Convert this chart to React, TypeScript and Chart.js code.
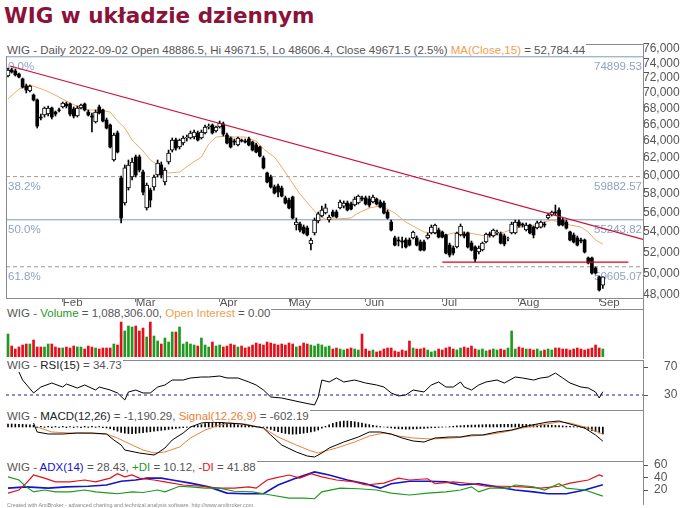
import React, { useEffect, useRef } from 'react';
import { Chart, registerables } from 'chart.js';

Chart.register(...registerables);

const FONT = '"Liberation Sans", Arial, Helvetica, sans-serif';
Chart.defaults.font.family = FONT;

// ================= DATA =================
const monthLabels = ['Feb', 'Mar', 'Apr', 'May', 'Jun', 'Jul', 'Aug', 'Sep'];
const monthStartBars = [15, 35, 58, 77, 98, 119, 140, 162];
const priceTicks = [48000, 50000, 52000, 54000, 56000, 58000, 60000, 62000, 64000, 66000, 68000, 70000, 72000, 74000, 76000];

const openPrices = [
  72260, 73080, 72940, 72530, 71860, 70930, 70270, 69740, 69100, 66930,
  67190, 67310, 68070, 67560, 67820, 68200, 68580, 68580, 67940, 67060,
  68070, 68580, 67560, 67060, 66310, 68200, 67820, 66560, 65940, 61770,
  64970, 59730, 57000, 58620, 59840, 62120, 62120, 60400, 56480, 58400,
  58730, 60060, 61200, 59280, 61540, 62930, 64120, 63290, 63760, 64360,
  64360, 64480, 64970, 64360, 64970, 65700, 65940, 65210, 65700, 66070,
  64720, 64360, 64000, 63530, 64120, 64000, 64240, 63880, 63530, 63290,
  62000, 60290, 59840, 58730, 58840, 58620, 57540, 57320, 57650, 54710,
  54810, 54500, 54400, 52800, 53900, 55120, 55640, 55950, 55220, 56050,
  56050, 56480, 56680, 57000, 56900, 56790, 57000, 57540, 57540, 57430,
  57110, 57430, 57110, 57000, 56050, 55010, 53400, 53200, 53100, 53200,
  53200, 53400, 53400, 53000, 53000, 53400, 53900, 53900, 54200, 54000,
  53700, 52700, 52410, 52510, 53700, 53800, 53900, 52900, 52510, 52020,
  52210, 53000, 53800, 53600, 53900, 53800, 53600, 53300, 53900, 53900,
  55010, 54810, 54200, 54710, 54500, 54400, 54500, 54810, 55430, 55740,
  56050, 56260, 55220, 55010, 54000, 53700, 53400, 53200, 53200, 51440,
  51440, 50490, 49650, 48886.5,
];
const highPrices = [
  73350, 73350, 73210, 72670, 71990, 71190, 71060, 69870, 69230, 67310,
  68200, 68330, 68200, 67690, 68070, 68840, 68840, 68710, 68200, 68330,
  68580, 68710, 67820, 67440, 67820, 68450, 67940, 66810, 66070, 64970,
  65210, 59950, 61200, 61770, 62000, 62350, 62350, 60630, 59170, 58620,
  60060, 61770, 61540, 60860, 62930, 64360, 64360, 64240, 64600, 64720,
  65210, 65330, 65210, 65330, 65940, 66070, 66070, 65820, 66440, 66310,
  64970, 64480, 64240, 64480, 64240, 64240, 64480, 64000, 63760, 63410,
  62230, 60400, 60060, 58950, 59060, 58840, 57750, 57540, 57750, 55430,
  55010, 54710, 54610, 53400, 55430, 56050, 56680, 56900, 55740, 56260,
  56260, 57320, 57220, 57220, 57110, 57650, 57860, 57750, 57750, 57750,
  57860, 57540, 57320, 57220, 56260, 55220, 53600, 53500, 53500, 53400,
  53400, 54100, 53600, 53200, 53200, 53900, 54710, 54810, 54400, 54100,
  53800, 52900, 52610, 54000, 54810, 54000, 54000, 53100, 52610, 52610,
  53000, 53900, 54000, 54300, 54200, 54000, 53800, 53490, 55010, 55220,
  55220, 54920, 54920, 54810, 54610, 55120, 55120, 55010, 55950, 56160,
  56790, 56480, 55430, 55220, 54100, 53900, 53600, 53400, 53300, 51540,
  51540, 50580, 49740, 49671.5,
];
const lowPrices = [
  72130, 72670, 72260, 71990, 70660, 70010, 70140, 68970, 65570, 66560,
  66930, 67060, 66690, 67060, 67560, 68070, 68070, 67060, 66810, 66930,
  67940, 67690, 67060, 65090, 66190, 67310, 66310, 65450, 63170, 61650,
  62580, 54920, 56790, 58400, 59510, 59840, 60400, 57860, 56260, 56580,
  58400, 59840, 59730, 58950, 61310, 62700, 62930, 63050, 63530, 64000,
  64240, 64240, 64000, 64240, 64840, 65450, 64840, 65080, 65570, 64600,
  63640, 63170, 63530, 63410, 63880, 63760, 63410, 62820, 62580, 62120,
  60740, 59170, 58620, 57970, 57650, 57650, 56900, 56370, 55330, 54200,
  54000, 53800, 53600, 52210, 53700, 54920, 55530, 55850, 55010, 55530,
  55430, 56370, 56480, 56160, 56260, 56680, 56900, 57220, 56790, 56580,
  57000, 56790, 56480, 55850, 55330, 54100, 52610, 52610, 52410, 52410,
  52610, 53300, 52610, 52120, 52120, 53300, 53800, 53800, 53400, 53400,
  51830, 51540, 51730, 52410, 53600, 53400, 52410, 52120, 51060, 51830,
  52120, 52900, 53490, 53490, 53700, 52800, 52610, 53100, 53800, 53800,
  54500, 54500, 54100, 53800, 53400, 54300, 54400, 54500, 55330, 55640,
  55740, 54610, 54610, 54300, 53100, 52900, 52610, 52900, 51920, 50870,
  49920, 49920, 48360, 48606.4,
];
const closePrices = [
  73080, 72810, 72400, 72130, 70790, 70400, 70930, 69100, 65820, 66810,
  68070, 68070, 66930, 67310, 67760, 68710, 68330, 67310, 67060, 68070,
  68450, 67820, 67190, 66930, 67560, 67440, 66440, 65570, 63290, 64720,
  62700, 55430, 60860, 61200, 61540, 60060, 60630, 58180, 58950, 57320,
  59840, 61430, 60060, 60630, 62580, 64120, 63170, 64120, 64360, 64480,
  64970, 65080, 64120, 65080, 65700, 65820, 64970, 65700, 66190, 64840,
  63760, 63290, 63880, 64360, 64000, 63880, 63530, 62930, 62700, 62230,
  60860, 59280, 58730, 58080, 58180, 57750, 57000, 56480, 55430, 55010,
  54200, 53900, 53700, 53200, 55220, 55850, 56260, 56480, 55530, 55640,
  55530, 57110, 57000, 56260, 56370, 57430, 57750, 57430, 56900, 56790,
  57650, 56900, 56580, 55950, 55430, 54200, 52700, 53100, 53000, 52510,
  52700, 54000, 52700, 52210, 52210, 53700, 54500, 54710, 53490, 53490,
  51920, 51730, 51920, 53900, 54610, 53600, 52510, 52210, 51340, 52410,
  52900, 53800, 53700, 54200, 54000, 52900, 52800, 53320, 54810, 55010,
  54610, 54710, 54710, 53900, 53700, 54920, 55010, 54710, 55740, 56050,
  55950, 54710, 54710, 54400, 53200, 53000, 52700, 53100, 52020, 50960,
  50020, 50020, 48460, 49671.5,
];
// volume in thousands of shares
const volumeK = [
  3128, 1496, 1088, 1360, 1632, 1768, 1768, 2312, 1360, 1360,
  1360, 1768, 1768, 1360, 1224, 1224, 1360, 1224, 1496, 1360,
  1360, 1088, 1496, 1360, 1224, 1088, 1224, 1224, 1224, 1768,
  1632, 4760, 3536, 4216, 4080, 4216, 3536, 3944, 2720, 4760,
  2856, 2176, 1768, 2584, 2040, 3400, 3400, 4080, 1768, 2040,
  1768, 1632, 1496, 2584, 1632, 1360, 2040, 1496, 1632, 1360,
  1496, 1768, 1632, 1360, 1496, 1224, 1360, 1632, 1904, 1768,
  1632, 2040, 1904, 1768, 1632, 1768, 1632, 1904, 1768, 1360,
  1496, 1904, 1768, 1632, 1496, 1768, 1632, 1360, 1496, 1088,
  1224, 1088, 952, 1088, 1224, 1088, 952, 3128, 1088, 816,
  952, 680, 816, 1088, 1224, 1224, 816, 680, 952, 816,
  2176, 1224, 1088, 1088, 1224, 952, 680, 816, 1088, 952,
  1224, 1360, 1088, 952, 1224, 1360, 1224, 1496, 1088, 952,
  1088, 816, 952, 1088, 952, 1088, 952, 1224, 3536, 1088,
  1360, 1224, 1088, 1088, 952, 1088, 816, 952, 1088, 952,
  1224, 1224, 1088, 1088, 952, 1088, 1224, 1088, 952, 1088,
  1224, 1632, 1224, 1088,
];

const maBars = [0, 3, 6, 10, 14, 17, 20, 22, 25, 28, 30, 32, 34, 37, 39, 41, 43, 44, 47, 50, 53, 55, 57, 60, 62, 65, 68, 70, 73, 75, 77, 80, 83, 85, 87, 90, 94, 96, 99, 102, 103, 106, 109, 112, 114, 117, 120, 122, 125, 128, 131, 133, 136, 139, 142, 144, 147, 149, 151, 154, 157, 159, 161, 163];
const maValues = [69230, 70530, 71058, 70397, 69480, 68710, 68070, 67816, 67816, 67560, 66440, 65575, 64121, 62815, 61770, 61196, 60627, 60290, 60400, 61310, 62115, 63645, 64480, 64600, 64480, 64480, 64000, 63050, 62115, 60970, 59730, 57970, 56580, 55740, 55325, 55325, 55430, 55950, 56475, 56685, 56580, 55950, 55015, 54400, 53995, 53900, 53696, 53900, 53995, 53795, 53596, 53696, 53995, 54400, 54605, 54709, 55015, 55222, 55015, 54709, 54505, 53995, 53197, 52784.44];

const fibLabels = ['0.0%', '38.2%', '50.0%', '61.8%'];
const fibLevels = [74899.53, 59882.57, 55243.82, 50605.07];
const fibDashed = [false, true, false, true];

const trendBars = [0.55, 174];
const trendValues = [73626, 53250];
const supportBars = [119, 170];
const supportValues = [51050, 51050];

const rsiBars = [3, 4, 7, 9, 12, 15, 16, 19, 21, 24, 25, 28, 30, 32, 33, 35, 37, 39, 41, 43, 45, 48, 50, 53, 55, 58, 60, 63, 66, 68, 70, 72, 75, 80, 84, 85, 86, 88, 90, 92, 95, 96, 98, 101, 103, 105, 107, 109, 111, 114, 116, 118, 120, 122, 124, 125, 127, 129, 131, 134, 136, 139, 141, 144, 146, 148, 150, 152, 154, 157, 159, 161, 162, 163];
const rsiValues = [62.9, 51.4, 32.9, 41.4, 47.1, 41.4, 45.7, 40, 44.3, 37.1, 41.4, 37.1, 32.9, 22.9, 34.3, 37.1, 32.9, 32.9, 41.4, 44.3, 51.4, 51.4, 54.3, 55.7, 55.7, 57.1, 54.3, 54.3, 48.6, 44.3, 37.1, 27.1, 25.7, 20, 15.7, 27.1, 51.4, 48.6, 54.3, 48.6, 51.4, 50, 47.1, 44.3, 41.4, 32.9, 28.6, 30, 37.1, 34.3, 44.3, 48.6, 41.4, 41.4, 48.6, 41.4, 37.1, 44.3, 48.6, 51.4, 47.1, 55.7, 54.3, 51.4, 54.3, 55.7, 61.4, 54.3, 47.1, 41.4, 40, 34.3, 25.7, 34.73];
const rsiTicks = [30, 70];
const rsiLevel = 30;

const macdBars = [7, 8, 11, 15, 19, 23, 27, 29, 31, 32, 36, 40, 41, 43, 45, 48, 50, 53, 56, 60, 64, 67, 70, 72, 75, 79, 82, 84, 86, 88, 92, 96, 99, 102, 105, 108, 111, 114, 117, 121, 124, 127, 130, 134, 138, 141, 145, 148, 151, 154, 158, 161, 163];
const macdValues = [336, -420, -588, -588, -504, -504, -588, -1092, -1512, -1932, -2184, -2352, -2184, -1764, -1092, -504, 0, 336, 420, 336, 252, 84, -84, -672, -1512, -2100, -2436, -2520, -2184, -1764, -1260, -840, -420, -420, -588, -924, -1176, -1260, -924, -840, -840, -672, -672, -420, -252, 0, 252, 420, 504, 252, -84, -672, -1190.29];
const signalBars = [8, 12, 17, 27, 30, 34, 37, 40, 43, 47, 50, 54, 58, 61, 65, 70, 74, 79, 83, 85, 90, 95, 99, 103, 107, 111, 116, 122, 127, 131, 136, 141, 146, 151, 154, 159, 163];
const signalValues = [0, -420, -504, -588, -924, -1512, -1932, -2184, -2100, -1680, -924, -252, 168, 336, 252, -84, -840, -1512, -2016, -2184, -1764, -1260, -756, -504, -756, -924, -1008, -924, -756, -672, -420, -84, 168, 420, 336, -84, -602.19];
const macdHist = [
  250, 250, 240, 230, 220, 200, 180, 150,
  -50, 60, -40, 50, -60, 40, -30, 60, -50, 40, -40, 30, -50, 60, -40, 50, -30, 40, -60, -80,
  -150, -250, -350, -450, -520, -550, -560, -540, -500, -470, -430, -400, -360, -320, -280, -240, -200, -160, -120, -90, -60, -30, -10,
  60, 120, 200, 280, 340, 380, 400, 380, 350, 310, 270, 230, 190, 150, 120, 90, 60, 30, 10, -20,
  -100, -200, -300, -400, -480, -540, -580, -600, -590, -560, -520, -470, -420, -350, -250,
  -100, 50, 180, 300, 400, 460, 500, 500, 480, 440, 380, 320, 260, 200, 140, 90, 40, 0, -40, -80,
  -120, -150, -170, -180, -180, -170, -150, -130, -110, -90, -70, -50, -30, -10, 0,
  30, 60, 90, 110, 130, 150, 160, 170, 180, 190, 200, 200, 210, 210, 220, 220, 230, 230, 240, 240, 230, 220, 210, 200, 190, 180, 170, 160, 150, 130, 110, 90, 70, 50, 30, 10, -10,
  -100, -200, -300, -400, -500, -588,
];

const adxBars = [0, 5, 11, 16, 22, 27, 31, 35, 38, 42, 45, 50, 55, 60, 65, 70, 74, 79, 84, 88, 93, 98, 102, 105, 110, 115, 120, 124, 129, 134, 139, 144, 148, 153, 158, 163];
const adxValues = [23, 25, 23, 25, 26, 28, 34, 36, 39, 39, 36, 31, 25, 15, 14, 14, 28, 39, 49, 44, 36, 30, 23, 30, 34, 34, 33, 28, 30, 25, 20, 17, 14, 14, 20, 28.43];
const pdiBars = [0, 3, 5, 7, 10, 13, 17, 21, 24, 28, 30, 34, 37, 41, 43, 47, 50, 54, 58, 62, 67, 72, 77, 81, 84, 86, 91, 96, 101, 105, 110, 115, 120, 124, 127, 129, 132, 137, 139, 144, 147, 151, 153, 158, 163];
const pdiValues = [41, 36, 25, 17, 20, 17, 17, 20, 17, 15, 14, 17, 16, 20, 17, 26, 25, 23, 23, 18, 17, 12, 7, 7, 6, 17, 23, 22, 20, 15, 12, 15, 17, 20, 25, 17, 23, 23, 28, 25, 20, 30, 23, 20, 10.12];
const mdiBars = [0, 3, 5, 7, 10, 13, 17, 21, 24, 28, 30, 32, 34, 36, 40, 43, 48, 53, 58, 62, 66, 68, 71, 73, 77, 80, 83, 86, 90, 95, 98, 103, 107, 110, 115, 117, 122, 127, 131, 136, 141, 146, 151, 154, 159, 162, 163];
const mdiValues = [15, 20, 31, 44, 39, 33, 33, 36, 33, 39, 46, 41, 44, 39, 36, 33, 28, 26, 23, 23, 25, 23, 36, 39, 44, 39, 46, 41, 36, 33, 28, 31, 39, 36, 38, 30, 33, 30, 26, 26, 25, 23, 26, 31, 36, 44, 41.88];
const adxTicks = [20, 40, 60];

// ================= STYLE =================
const X_MIN = -0.55;
const X_MAX = 174;
const GRAY = '#555555';
const FRAME = '#8a8a8a';
const GREEN = '#1f9a1f';
const RED = '#e3101a';
const ORANGE = '#f0a050';
const FIB_TEXT = '#8ea3c4';

function pairs(xs: number[], ys: number[]) {
  return xs.map((x, i) => ({ x, y: ys[i] }));
}

function noPad(s: any) {
  s.paddingTop = 0; s.paddingBottom = 0; s.paddingLeft = 0; s.paddingRight = 0;
}

function hiddenX(): any {
  return { type: 'linear', min: X_MIN, max: X_MAX, offset: false, bounds: 'data', display: false, grid: { display: false, offset: false } };
}

function yRight(opts: any): any {
  return {
    position: 'right',
    offset: false,
    bounds: 'data',
    grid: { display: false, drawTicks: false },
    border: { display: false },
    afterFit: (s: any) => { s.width = 37; noPad(s); },
    ...opts,
  };
}

const framePlugin = {
  id: 'frame',
  afterDatasetsDraw(chart: any, _args: any, opts: any) {
    const { ctx, chartArea: a } = chart;
    ctx.save();
    ctx.strokeStyle = FRAME;
    ctx.lineWidth = 1;
    ctx.beginPath();
    if (opts.top) { ctx.moveTo(a.left, a.top + 0.5); ctx.lineTo(a.right + 1, a.top + 0.5); }
    if (opts.left) { ctx.moveTo(a.left + 0.5, a.top); ctx.lineTo(a.left + 0.5, a.bottom + 1); }
    if (opts.bottom) { ctx.moveTo(a.left, a.bottom + 0.5); ctx.lineTo(a.right + 1, a.bottom + 0.5); }
    ctx.moveTo(a.right + 0.5, a.top); ctx.lineTo(a.right + 0.5, chart.height);
    ctx.stroke();
    ctx.restore();
  },
};

const fibLabelPlugin = {
  id: 'fibText',
  beforeDatasetsDraw(chart: any) {
    const { ctx, chartArea: a, scales } = chart;
    ctx.save();
    ctx.font = `11.5px ${FONT}`;
    ctx.fillStyle = FIB_TEXT;
    ctx.textBaseline = 'alphabetic';
    fibLevels.forEach((lvl, k) => {
      const py = scales.y.getPixelForValue(lvl) + 13;
      ctx.textAlign = 'left';
      ctx.fillText(fibLabels[k], a.left + 2, py);
      ctx.textAlign = 'right';
      ctx.fillText(lvl.toFixed(2), a.right - 1, py);
    });
    ctx.restore();
  },
};

function baseOptions(padTop: number, padBottom: number, scales: any, frame: any): any {
  return {
    animation: false,
    responsive: false,
    events: [],
    layout: { padding: { left: 6, right: 0, top: padTop, bottom: padBottom }, autoPadding: false },
    plugins: { legend: { display: false }, tooltip: { enabled: false }, frame },
    scales,
  };
}

// ================= CHART CONFIGS =================
function priceConfig(): any {
  const wicks = openPrices.map((_, i) => ({ x: i, y: [lowPrices[i], highPrices[i]] }));
  const up: any[] = [];
  const down: any[] = [];
  openPrices.forEach((o, i) => {
    const c = closePrices[i];
    (c >= o ? up : down).push({ x: i, y: [o, c] });
  });
  const fibSets = fibLevels.map((lvl, k) => ({
    type: 'line',
    data: [{ x: X_MIN, y: lvl }, { x: X_MAX, y: lvl }],
    borderColor: fibDashed[k] ? '#999999' : '#7f98bc',
    borderDash: fibDashed[k] ? [4, 3] : [],
    borderWidth: 1,
    pointRadius: 0,
    order: 6,
  }));
  return {
    type: 'bar',
    data: {
      datasets: [
        ...fibSets,
        { type: 'line', data: pairs(maBars, maValues), borderColor: '#f2aa66', borderWidth: 1, pointRadius: 0, order: 4 },
        { type: 'bar', data: wicks, backgroundColor: '#000', barThickness: 1, grouped: false, order: 2 },
        { type: 'bar', data: down, backgroundColor: '#000', barThickness: 3, grouped: false, order: 1 },
        { type: 'bar', data: up, backgroundColor: '#fff', borderColor: '#000', borderWidth: 1, borderSkipped: false, barThickness: 4, grouped: false, order: 1 },
        { type: 'line', data: pairs(trendBars, trendValues), borderColor: '#cc1038', borderWidth: 1.2, pointRadius: 0, order: 0 },
        { type: 'line', data: pairs(supportBars, supportValues), borderColor: '#e0001a', borderWidth: 1.2, pointRadius: 0, order: 0 },
      ],
    },
    options: baseOptions(4, 0, {
      x: {
        type: 'linear', min: X_MIN, max: X_MAX, offset: false, bounds: 'data', position: 'bottom',
        grid: { display: true, drawOnChartArea: false, drawTicks: true, tickLength: 4, color: '#777', offset: false },
        border: { display: false },
        ticks: { autoSkip: false, maxRotation: 0, align: 'start', padding: -6, color: GRAY, font: { size: 11.5 }, callback: (_v: any, i: number) => monthLabels[i] },
        afterBuildTicks: (s: any) => { s.ticks = monthStartBars.map((v) => ({ value: v })); },
        afterFit: (s: any) => { s.height = 11; noPad(s); },
      },
      y: yRight({
        type: 'logarithmic', min: 47737, max: 76713,
        afterBuildTicks: (s: any) => { s.ticks = priceTicks.map((v) => ({ value: v })); },
        ticks: { autoSkip: false, color: GRAY, font: { size: 12 }, padding: 0, callback: (v: any) => Number(v).toLocaleString('en-US') },
      }),
    }, { top: true, left: true, bottom: true }),
    plugins: [framePlugin, fibLabelPlugin],
  };
}

function volumeConfig(): any {
  return {
    type: 'bar',
    data: {
      datasets: [{
        data: volumeK.map((v, i) => ({ x: i, y: v })),
        backgroundColor: volumeK.map((_, i) => (closePrices[i] >= openPrices[i] ? GREEN : RED)),
        barThickness: 2,
        grouped: false,
      }],
    },
    options: baseOptions(0, 2, { x: hiddenX(), y: yRight({ min: 0, max: 6530, ticks: { display: false } }) }, { top: true }),
    plugins: [framePlugin],
  };
}

function rsiConfig(): any {
  return {
    type: 'line',
    data: {
      datasets: [
        { data: [{ x: X_MIN, y: rsiLevel }, { x: X_MAX, y: rsiLevel }], borderColor: '#1a1a9a', borderDash: [3, 3], borderWidth: 1, pointRadius: 0 },
        { data: pairs(rsiBars, rsiValues), borderColor: '#000', borderWidth: 1, pointRadius: 0 },
      ],
    },
    options: baseOptions(5, 1, {
      x: hiddenX(),
      y: yRight({
        min: 10, max: 80,
        afterBuildTicks: (s: any) => { s.ticks = rsiTicks.map((v) => ({ value: v })); },
        grid: { display: true, drawOnChartArea: false, drawTicks: true, tickLength: 5, color: '#555' },
        ticks: { autoSkip: false, color: GRAY, font: { size: 12 }, padding: 16 },
      }),
    }, { top: true }),
    plugins: [framePlugin],
  };
}

function macdConfig(): any {
  return {
    type: 'bar',
    data: {
      datasets: [
        { type: 'line', data: pairs(signalBars, signalValues), borderColor: '#e8823a', borderWidth: 1, pointRadius: 0, order: 1 },
        { type: 'line', data: pairs(macdBars, macdValues), borderColor: '#000', borderWidth: 1, pointRadius: 0, order: 0 },
        { type: 'bar', data: macdHist.map((v, i) => ({ x: i, y: v })), backgroundColor: '#000', barThickness: 1, grouped: false, order: 2 },
      ],
    },
    options: baseOptions(0, 1, { x: hiddenX(), y: yRight({ min: -2772, max: 1428, ticks: { display: false } }) }, { top: true }),
    plugins: [framePlugin],
  };
}

function adxConfig(): any {
  return {
    type: 'line',
    data: {
      datasets: [
        { data: pairs(pdiBars, pdiValues), borderColor: '#1f9a1f', borderWidth: 1.2, pointRadius: 0 },
        { data: pairs(mdiBars, mdiValues), borderColor: '#e3101a', borderWidth: 1.2, pointRadius: 0 },
        { data: pairs(adxBars, adxValues), borderColor: '#1414c8', borderWidth: 1.6, pointRadius: 0 },
      ],
    },
    options: baseOptions(5, 2, {
      x: hiddenX(),
      y: yRight({
        min: -0.8, max: 66.4,
        afterBuildTicks: (s: any) => { s.ticks = adxTicks.map((v) => ({ value: v })); },
        grid: { display: true, drawOnChartArea: false, drawTicks: true, tickLength: 5, color: '#555' },
        ticks: { autoSkip: false, color: GRAY, font: { size: 12 }, padding: 6 },
      }),
    }, { top: true }),
    plugins: [framePlugin],
  };
}

// ================= COMPONENTS =================
function Panel({ top, height, make }: { top: number; height: number; make: () => any }) {
  const ref = useRef<HTMLCanvasElement>(null);
  useEffect(() => {
    const chart = new Chart(ref.current as HTMLCanvasElement, make());
    return () => chart.destroy();
  }, []);
  return <canvas ref={ref} width={680} height={height} style={{ position: 'absolute', left: 0, top, width: 680, height }} />;
}

type Part = { t: string; c?: string };
function Header({ top, parts }: { top: number; parts: Part[] }) {
  return (
    <div style={{ position: 'absolute', left: 6, top, height: 12, lineHeight: '12px', fontSize: '11.5px', fontFamily: FONT, background: '#fff', whiteSpace: 'nowrap', color: GRAY, paddingLeft: 1, paddingRight: 1, zIndex: 2 }}>
      {parts.map((p, i) => <span key={i} style={{ color: p.c || GRAY }}>{p.t}</span>)}
    </div>
  );
}

export default function App() {
  return (
    <div style={{ position: 'absolute', left: 0, top: 0, width: 680, height: 508, background: '#fff', overflow: 'hidden' }}>
      <div style={{ position: 'absolute', left: 4, top: 3, fontFamily: '"DejaVu Sans", Verdana, sans-serif', fontWeight: 'bold', fontSize: '21.5px', lineHeight: '25px', color: '#8b1238', whiteSpace: 'nowrap' }}>
        WIG w układzie dziennym
      </div>
      <Panel top={40} height={269} make={priceConfig} />
      <Panel top={309} height={50} make={volumeConfig} />
      <Panel top={355} height={55} make={rsiConfig} />
      <Panel top={410} height={51} make={macdConfig} />
      <Panel top={456} height={49} make={adxConfig} />
      <Header top={43.5} parts={[{ t: 'WIG - Daily 2022-09-02 Open 48886.5, Hi 49671.5, Lo 48606.4, Close 49671.5 (2.5%) ' }, { t: 'MA(Close,15)', c: ORANGE }, { t: ' = 52,784.44' }]} />
      <Header top={307} parts={[{ t: 'WIG - ' }, { t: 'Volume', c: GREEN }, { t: ' = 1,088,306.00, ' }, { t: 'Open Interest', c: ORANGE }, { t: ' = 0.00' }]} />
      <Header top={358.5} parts={[{ t: 'WIG - ' }, { t: 'RSI(15)', c: '#222' }, { t: ' = 34.73' }]} />
      <Header top={410} parts={[{ t: 'WIG - ' }, { t: 'MACD(12,26)', c: '#222' }, { t: ' = -1,190.29, ' }, { t: 'Signal(12,26,9)', c: '#e8823a' }, { t: ' = -602.19' }]} />
      <Header top={461} parts={[{ t: 'WIG - ' }, { t: 'ADX(14)', c: '#1414c8' }, { t: ' = 28.43, ' }, { t: '+DI', c: GREEN }, { t: ' = 10.12, ' }, { t: '-DI', c: RED }, { t: ' = 41.88' }]} />
      <div style={{ position: 'absolute', left: 7, top: 502, fontSize: '5.4px', lineHeight: '6px', fontFamily: FONT, color: '#888', whiteSpace: 'nowrap' }}>
        Created with AmiBroker - advanced charting and technical analysis software. http://www.amibroker.com
      </div>
    </div>
  );
}
